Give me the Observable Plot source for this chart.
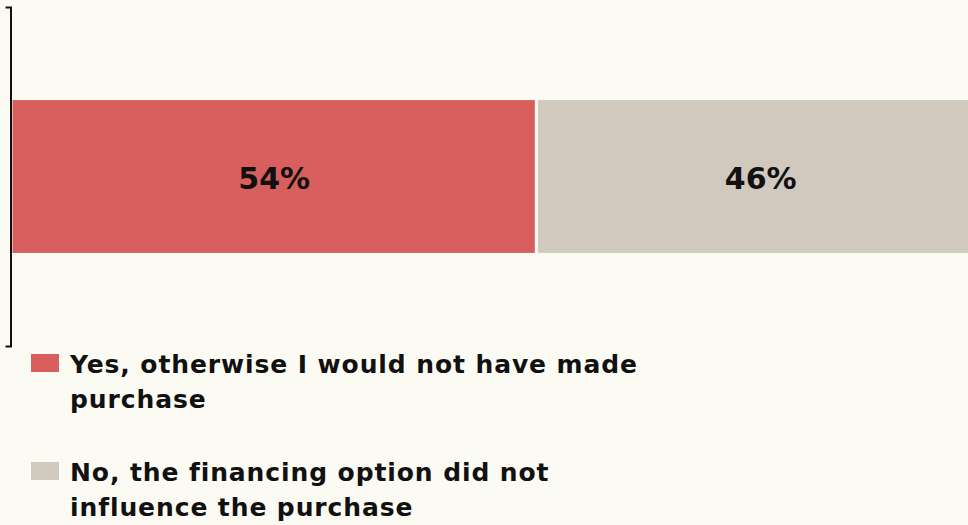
<!DOCTYPE html>
<html>
<head>
<meta charset="utf-8">
<script src="https://cdn.jsdelivr.net/npm/d3@7"></script>
<script src="https://cdn.jsdelivr.net/npm/@observablehq/plot@0.6"></script>
<style>
  html, body { margin: 0; padding: 0; background: #FCFBF3; overflow: hidden; }
  #wrap { position: relative; width: 968px; height: 525px; }
  #legend { position: absolute; left: 31px; top: 347px; font-family: "DejaVu Sans", sans-serif; font-weight: bold; font-size: 25px; letter-spacing: 0.9px; line-height: 35px; color: #111; }
  .item { position: relative; padding-left: 39px; width: 575px; height: 108px; }
  .sw { position: absolute; left: 0; top: 7px; width: 28px; height: 18px; }
</style>
</head>
<body>
<div id="wrap"><div id="chart"></div><div id="legend"></div></div>
<script>
const categories = ["Yes, otherwise I would not have made purchase", "No, the financing option did not influence the purchase"];
const values = [54, 46];
const colors = ["#D95F5F", "#D1C9BD"];
const labels = ["54%", "46%"];
const question = "Q";

let start = 0;
const data = categories.map((c, i) => {
  const d = {category: c, x1: start, x2: start + values[i], label: labels[i], color: colors[i], q: question};
  start += values[i];
  return d;
});

function leftAxis(index, scales, values, dims) {
  const top = dims.marginTop, bottom = dims.height - dims.marginBottom;
  const s = d3.scaleLinear().range([top, bottom]);
  const g = d3.create("svg:g").attr("transform", `translate(${dims.marginLeft - 0.5},0)`);
  g.call(d3.axisLeft(s).ticks(0).tickSizeOuter(5));
  g.select(".domain").attr("stroke", "#111").attr("stroke-width", 2);
  return g.node();
}

const chart = Plot.plot({
  width: 968,
  height: 350,
  marginLeft: 11,
  marginRight: 0,
  marginTop: 7,
  marginBottom: 4,
  style: {background: "#FCFBF3"},
  x: {domain: [0, 100], range: [11, 984], axis: null},
  y: {domain: [question], padding: 0.37, round: false, axis: null},
  marks: [
    Plot.barX(data, {x1: "x1", x2: "x2", y: "q", fill: "color", stroke: "#FCFBF3", strokeWidth: 3, clip: true}),
    Plot.text(data, {x: d => (d.x1 + d.x2) / 2, y: "q", text: "label", fontSize: 30, fontWeight: "bold", fontFamily: "DejaVu Sans", fill: "#111", dy: 2}),
    leftAxis
  ]
});
document.getElementById("chart").appendChild(chart);

const legend = document.getElementById("legend");
categories.forEach((c, i) => {
  const item = document.createElement("div");
  item.className = "item";
  const sw = document.createElement("div");
  sw.className = "sw";
  sw.style.background = colors[i];
  item.appendChild(sw);
  item.appendChild(document.createTextNode(c));
  legend.appendChild(item);
});
</script>
</body>
</html>
